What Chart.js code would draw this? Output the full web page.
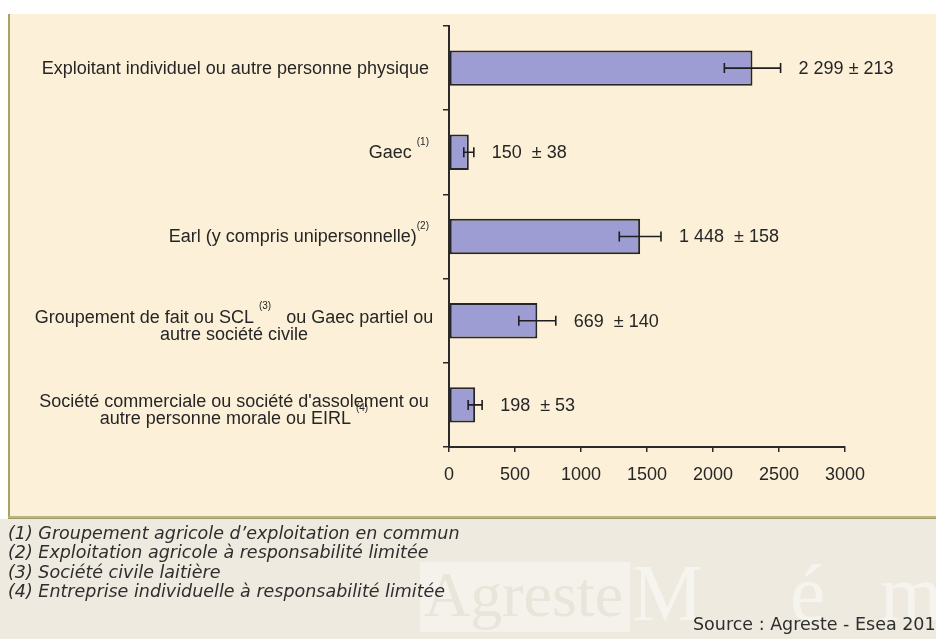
<!DOCTYPE html>
<html>
<head>
<meta charset="utf-8">
<script src="https://cdn.jsdelivr.net/npm/chart.js@4.4.1/dist/chart.umd.min.js"></script>
<style>
  html, body { margin: 0; padding: 0; background: #ffffff; }
  #wrap { position: relative; width: 936px; height: 639px; }
</style>
</head>
<body>
<div id="wrap"><canvas id="c" width="936" height="639"></canvas></div>
<script>
// ---- Data ----
const categories = [
  ["Exploitant individuel ou autre personne physique"],
  ["Gaec ^(1)"],
  ["Earl (y compris unipersonnelle)^(2)"],
  ["Groupement de fait ou SCL ^(3)   ou Gaec partiel ou", "autre société civile"],
  ["Société commerciale ou société d'assolement ou", "autre personne morale ou EIRL ^(4)"]
];
const values = [2299, 150, 1448, 669, 198];
const errors = [213, 38, 158, 140, 53];
const valueLabels = ["2 299 ± 213", "150  ± 38", "1 448  ± 158", "669  ± 140", "198  ± 53"];
const xTicks = [0, 500, 1000, 1500, 2000, 2500, 3000];
const footnotes = [
  "(1) Groupement agricole d\u2019exploitation en commun",
  "(2) Exploitation agricole à responsabilité limitée",
  "(3) Société civile laitière",
  "(4) Entreprise individuelle à responsabilité limitée"
];
const sourceText = "Source : Agreste - Esea 201";

const FONT = '"Liberation Sans", Arial, sans-serif';
const NOTE_FONT = '"DejaVu Sans", "Open Sans", sans-serif';
const TXT = '#262626';

// ---- Background / decoration plugin ----
const backgroundPlugin = {
  id: 'bg',
  beforeDraw(chart) {
    const ctx = chart.ctx;
    ctx.save();
    ctx.fillStyle = '#ffffff';
    ctx.fillRect(0, 0, 936, 639);
    // cream panel
    ctx.fillStyle = '#FCF0D8';
    ctx.fillRect(9, 14, 927, 503);
    // left border
    ctx.fillStyle = '#A9A260';
    ctx.fillRect(8, 14, 2, 503);
    // bottom area
    ctx.fillStyle = '#EEEADF';
    ctx.fillRect(0, 519, 936, 120);
    // bottom border
    ctx.fillStyle = '#BDB57E';
    ctx.fillRect(8, 516, 928, 2);
    ctx.fillStyle = '#9E9A6C';
    ctx.fillRect(8, 518, 928, 1);
    // watermark
    ctx.fillStyle = '#F4F2EA';
    ctx.fillRect(420, 562, 210, 70);
    ctx.textBaseline = 'alphabetic';
    ctx.textAlign = 'left';
    ctx.font = '64px "Liberation Serif", "DejaVu Serif", serif';
    ctx.fillStyle = '#E9E5DA';
    ctx.fillText('Agreste', 424, 616);
    ctx.font = '80px "Liberation Serif", "DejaVu Serif", serif';
    ctx.fillStyle = '#F6F4EE';
    ctx.fillText('M', 632, 620);
    ctx.fillText('é', 790, 620);
    ctx.fillText('m', 880, 620);
    ctx.restore();
  }
};

// ---- Labels, error bars, footnotes ----
function drawRich(ctx, line, x, y, align) {
  const parts = line.split(/\^(\(\d\))/);
  const segs = [];
  for (let i = 0; i < parts.length; i++) {
    if (parts[i] === '') continue;
    segs.push({ text: parts[i], sup: i % 2 === 1 });
  }
  const normalFont = '18px ' + FONT;
  const supFont = '10px ' + FONT;
  let total = 0;
  segs.forEach(s => { ctx.font = s.sup ? supFont : normalFont; s.w = ctx.measureText(s.text).width; total += s.w; });
  let cx = align === 'right' ? x - total : (align === 'center' ? x - total / 2 : x);
  segs.forEach(s => {
    ctx.font = s.sup ? supFont : normalFont;
    ctx.textAlign = 'left';
    ctx.fillText(s.text, cx, s.sup ? y - 11 : y);
    cx += s.w;
  });
}

const overlayPlugin = {
  id: 'overlay',
  afterDatasetsDraw(chart) {
    const ctx = chart.ctx;
    const xs = chart.scales.x, ys = chart.scales.y;
    ctx.save();
    // error bars
    ctx.strokeStyle = '#1e1e1e';
    ctx.lineWidth = 1.6;
    values.forEach((v, i) => {
      const y = ys.getPixelForValue(i);
      const x1 = xs.getPixelForValue(v - errors[i]);
      const x2 = xs.getPixelForValue(v + errors[i]);
      ctx.beginPath();
      ctx.moveTo(x1, y); ctx.lineTo(x2, y);
      ctx.moveTo(x1, y - 5); ctx.lineTo(x1, y + 5);
      ctx.moveTo(x2, y - 5); ctx.lineTo(x2, y + 5);
      ctx.stroke();
      // value label
      ctx.fillStyle = TXT;
      ctx.font = '18px ' + FONT;
      ctx.textAlign = 'left';
      ctx.textBaseline = 'middle';
      ctx.fillText(valueLabels[i], x2 + 18, y + 1);
    });
    // category labels
    ctx.fillStyle = TXT;
    ctx.textBaseline = 'middle';
    categories.forEach((lines, i) => {
      const y = ys.getPixelForValue(i);
      if (lines.length === 1) {
        drawRich(ctx, lines[0], 429, y + 1, 'right');
      } else {
        drawRich(ctx, lines[0], 234, y - 3, 'center');
        drawRich(ctx, lines[1], 234, y + 14, 'center');
      }
    });
    // footnotes
    ctx.font = 'oblique 17.5px ' + NOTE_FONT;
    ctx.fillStyle = '#2e2e2e';
    ctx.textAlign = 'left';
    ctx.textBaseline = 'middle';
    footnotes.forEach((t, i) => ctx.fillText(t, 8, 534 + i * 19.5));
    ctx.font = '17.5px ' + NOTE_FONT;
    ctx.fillText(sourceText, 693, 625);
    ctx.restore();
  }
};

new Chart(document.getElementById('c'), {
  type: 'bar',
  data: {
    labels: categories.map(l => l.join(' ')),
    datasets: [{
      data: values,
      backgroundColor: '#9D9DD3',
      borderColor: '#262626',
      borderWidth: 2,
      borderSkipped: false,
      barPercentage: 0.42,
      categoryPercentage: 1.0
    }]
  },
  options: {
    indexAxis: 'y',
    responsive: false,
    animation: false,
    devicePixelRatio: 1,
    layout: { padding: { left: 449, right: 91, top: 26, bottom: 142 } },
    plugins: { legend: { display: false }, tooltip: { enabled: false } },
    scales: {
      x: {
        type: 'linear',
        min: 0, max: 3000,
        afterBuildTicks(scale) { scale.ticks = xTicks.map(v => ({ value: v })); },
        afterFit(scale) { scale.height = 50; },
        ticks: { color: TXT, font: { family: FONT, size: 18 }, padding: 12, maxRotation: 0,
                 callback: (v) => String(v) },
        grid: { drawOnChartArea: false, tickLength: 5, color: '#2a2a2a', lineWidth: 1.5 },
        border: { color: '#2a2a2a', width: 2 }
      },
      y: {
        type: 'category',
        offset: true,
        afterFit(scale) { scale.width = 0; },
        ticks: { display: false },
        grid: { offset: true, drawOnChartArea: false, tickLength: 6, color: '#2a2a2a', lineWidth: 1.5 },
        border: { color: '#2a2a2a', width: 2 }
      }
    }
  },
  plugins: [backgroundPlugin, overlayPlugin]
});
</script>
</body>
</html>
